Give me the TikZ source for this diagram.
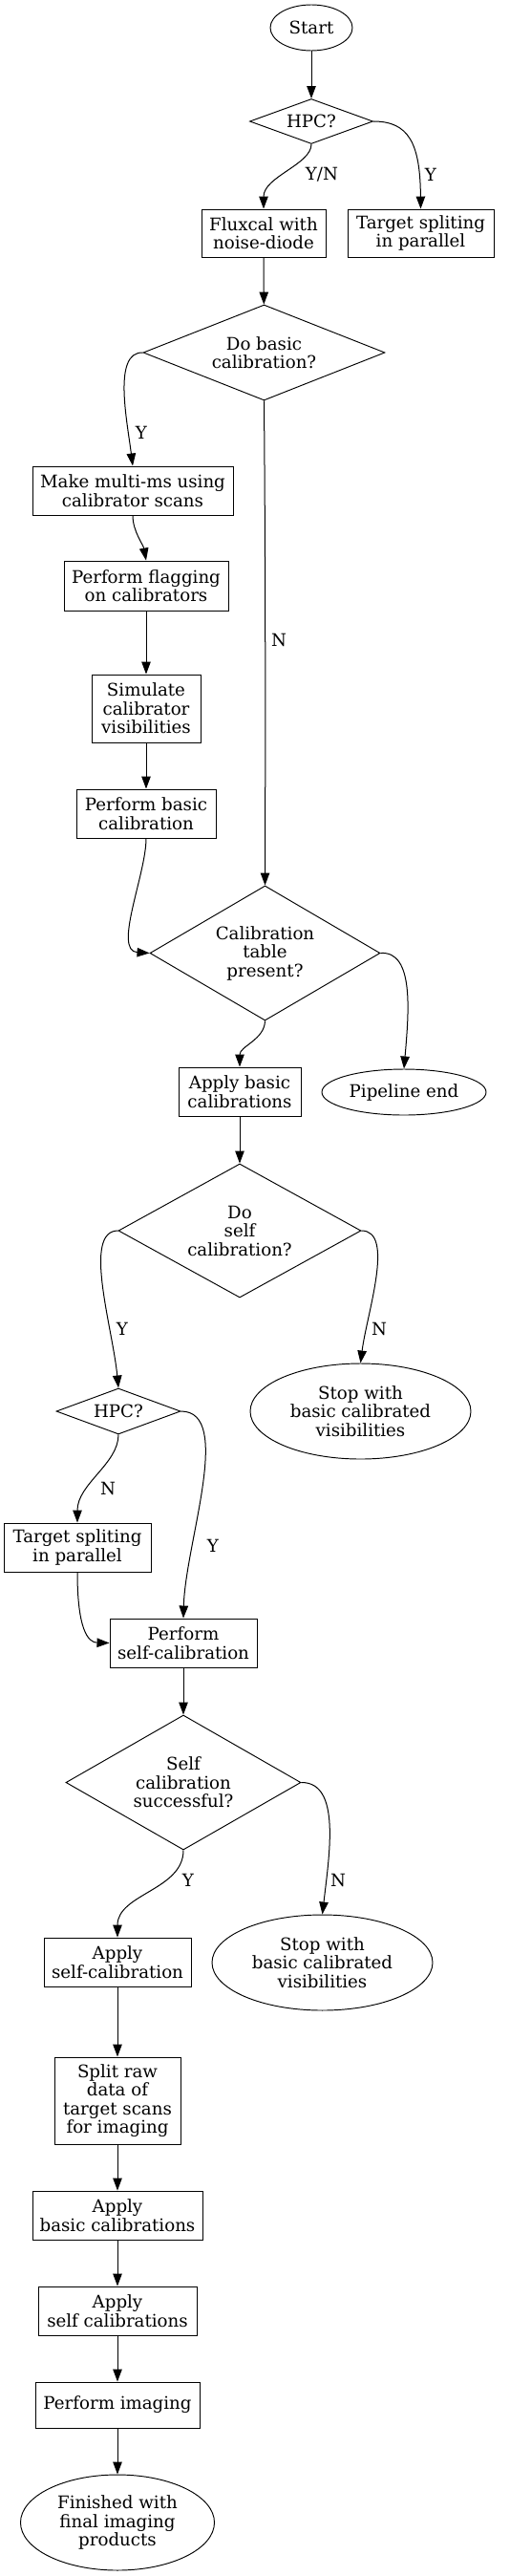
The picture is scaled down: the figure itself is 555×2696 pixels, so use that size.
\documentclass[tikz,border=0pt]{standalone}
\usepackage{fontspec}
\setmainfont{DejaVu Serif}
\usetikzlibrary{shapes.geometric,arrows.meta}
\begin{document}
\begin{tikzpicture}[x=1pt,y=-1pt,
  every node/.style={font=\fontsize{18.2}{19.5}\selectfont, align=center, inner sep=0pt, line width=0.95pt},
  procbox/.style={draw, rectangle},
  endell/.style={draw, ellipse},
  decide/.style={draw, diamond},
  lbl/.style={},
  flow/.style={draw, line width=1pt, -{Triangle[length=13pt,width=9.5pt]}}]
\useasboundingbox (0,0) rectangle (555,2696);
% nodes
\node[endell, minimum width=86, minimum height=48] (start) at (326,29) {Start};
\node[decide, aspect=2.74, minimum width=129, minimum height=47] (hpc1) at (326,127) {HPC?};
\node[procbox, minimum width=130, minimum height=50] (flux) at (276,244) {Fluxcal with\\noise-diode};
\node[procbox, minimum width=153, minimum height=50] (ts1) at (440.5,244) {Target spliting\\in parallel};
\node[decide, aspect=2.53, minimum width=253, minimum height=100] (dobasic) at (276.5,369) {Do basic\\calibration?};
\node[procbox, minimum width=210, minimum height=51] (multims) at (139,513.5) {Make multi-ms using\\calibrator scans};
\node[procbox, minimum width=172, minimum height=52] (flag) at (153,613) {Perform flagging\\on calibrators};
\node[procbox, minimum width=114, minimum height=71] (sim) at (153,741.5) {Simulate\\calibrator\\visibilities};
\node[procbox, minimum width=146, minimum height=51] (perfbasic) at (153,851.5) {Perform basic\\calibration};
\node[decide, aspect=1.71, minimum width=241, minimum height=141] (caltab) at (277.5,997.5) {Calibration\\table\\present?};
\node[procbox, minimum width=128, minimum height=51] (applybasic) at (251,1142.5) {Apply basic\\calibrations};
\node[endell, minimum width=172, minimum height=48] (pipeend) at (423,1143) {Pipeline end};
\node[decide, aspect=1.81, minimum width=254, minimum height=140] (doself) at (251,1288) {Do\\self\\calibration?};
\node[decide, aspect=2.7, minimum width=130, minimum height=48] (hpc2) at (124,1477) {HPC?};
\node[endell, minimum width=231, minimum height=100] (stop1) at (377.5,1477) {Stop with\\basic calibrated\\visibilities};
\node[procbox, minimum width=154, minimum height=51] (ts2) at (81,1619.5) {Target spliting\\in parallel};
\node[procbox, minimum width=154, minimum height=51] (perfself) at (192,1719.5) {Perform\\self-calibration};
\node[decide, aspect=1.745, minimum width=246, minimum height=141] (scs) at (192,1865.5) {Self\\calibration\\successful?};
\node[procbox, minimum width=154, minimum height=51] (applyself) at (123,2053.5) {Apply\\self-calibration};
\node[endell, minimum width=231, minimum height=100] (stop2) at (337.5,2054) {Stop with\\basic calibrated\\visibilities};
\node[procbox, minimum width=132, minimum height=91] (splitraw) at (123,2198.5) {Split raw\\data of\\target scans\\for imaging};
\node[procbox, minimum width=178, minimum height=51] (applybasic2) at (123,2318.5) {Apply\\basic calibrations};
\node[procbox, minimum width=166, minimum height=51] (applyself2) at (123,2418.5) {Apply\\self calibrations};
\node[procbox, minimum width=172, minimum height=48] (perfimg) at (123,2517) {Perform imaging};
\node[endell, minimum width=203, minimum height=100] (finished) at (123,2640) {Finished with\\final imaging\\products};
% edge labels
\node[lbl] (l1) at (337,183) {Y/N};
\node[lbl] (l2) at (451,183) {Y};
\node[lbl] (l3) at (148,453) {Y};
\node[lbl] (l4) at (292,670) {N};
\node[lbl] (l5) at (128,1391) {Y};
\node[lbl] (l6) at (397,1391) {N};
\node[lbl] (l7) at (113,1558) {N};
\node[lbl] (l8) at (223,1618) {Y};
\node[lbl] (l9) at (197,1968) {Y};
\node[lbl] (l10) at (354,1968) {N};
% edges
\path[flow] (start) -- (hpc1);
\path[flow] (hpc1.south) .. controls (326,172) and (276,185) .. (flux.north);
\path[flow] (hpc1.east) .. controls (428,127) and (440,150) .. (ts1.north);
\path[flow] (flux) -- (dobasic);
\path[flow] (dobasic.west) .. controls (118,368) and (133,440) .. (multims.north);
\path[flow] (dobasic.south) .. controls (278,600) and (278,760) .. (caltab.north);
\path[flow] (multims.south) .. controls (139,556) and (150,570) .. (flag.north);
\path[flow] (flag) -- (sim);
\path[flow] (sim) -- (perfbasic);
\path[flow] (perfbasic.south) .. controls (153,915) and (118,995) .. (caltab.west);
\path[flow] (caltab.south) .. controls (277,1088) and (251,1095) .. (applybasic.north);
\path[flow] (caltab.east) .. controls (434,995) and (428,1060) .. (pipeend.north);
\path[flow] (applybasic) -- (doself);
\path[flow] (doself.west) .. controls (86,1288) and (118,1390) .. (hpc2.north);
\path[flow] (doself.east) .. controls (414,1288) and (384,1375) .. (stop1.north);
\path[flow] (hpc2.south) .. controls (124,1532) and (81,1553) .. (ts2.north);
\path[flow] (hpc2.east) .. controls (245,1477) and (194,1615) .. (perfself.north);
\path[flow] (ts2.south) .. controls (81,1705) and (92,1719) .. (perfself.west);
\path[flow] (perfself) -- (scs);
\path[flow] (scs.south) .. controls (192,1978) and (123,1982) .. (applyself.north);
\path[flow] (scs.east) .. controls (357,1865) and (345,1940) .. (stop2.north);
\path[flow] (applyself) -- (splitraw);
\path[flow] (splitraw) -- (applybasic2);
\path[flow] (applybasic2) -- (applyself2);
\path[flow] (applyself2) -- (perfimg);
\path[flow] (perfimg) -- (finished);
\end{tikzpicture}
\end{document}
